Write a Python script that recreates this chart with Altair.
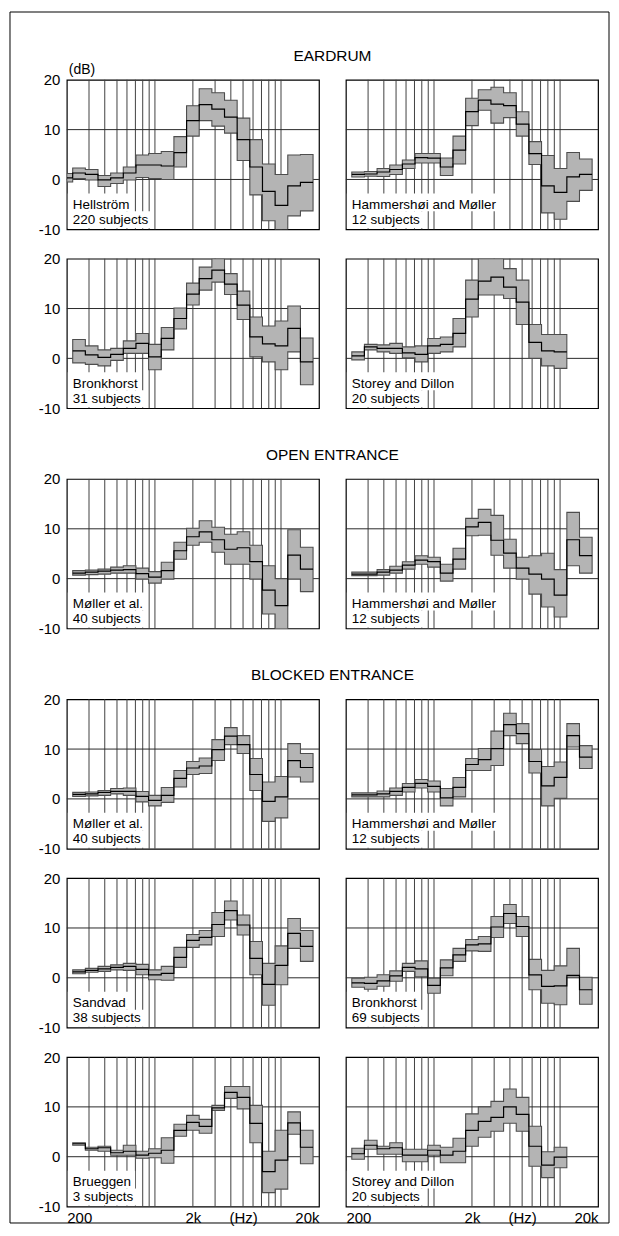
import altair as alt
import pandas as pd

# ---------------- data ----------------
GRID_FREQS = [300, 400, 500, 600, 700, 800, 900, 1000,
              2000, 3000, 4000, 5000, 6000, 7000, 8000, 9000, 10000]
H_LINES = [0, 10]
Y_TICKS = [-10, 0, 10, 20]
X_LABEL_VALUES = [200, 2000, 5000, 20000]
X_LABEL_TEXT = ["200", "2k", "(Hz)", "20k"]
SECTIONS = ["EARDRUM", "OPEN ENTRANCE", "BLOCKED ENTRANCE"]
Y_UNIT = "(dB)"

# band index 0 = 200 Hz, 1 = 250 Hz, ... 19 = 16 kHz (1/3 octave)
hel_mean = [0.3, 1.3, 1.0, -0.1, 0.3, 1.3, 2.9, 2.9, 2.7, 5.4, 11.8, 15.0, 14.1, 12.5, 8.0, 2.5, -2.4, -5.2, -1.3, -0.6]
hel_lo = [-0.5, 0.2, -0.1, -1.4, -0.8, -0.1, 0.4, 0.2, 0.0, 2.5, 8.7, 11.8, 10.7, 9.3, 3.8, -3.1, -8.3, -10.5, -7.3, -6.3]
hel_hi = [1.2, 2.3, 2.0, 0.8, 1.3, 2.5, 4.9, 5.2, 5.6, 8.6, 14.8, 18.2, 17.4, 15.9, 12.3, 8.0, 3.1, 1.0, 4.9, 5.0]

hme_mean = [1.0, 1.1, 1.5, 2.0, 3.1, 4.4, 4.3, 2.5, 5.9, 13.6, 15.9, 15.1, 14.8, 11.1, 5.2, -1.3, -2.6, 0.5, 1.0]
hme_lo = [0.5, 0.65, 0.6, 1.0, 2.2, 3.3, 3.3, 0.8, 3.1, 10.8, 13.9, 11.3, 12.4, 8.7, 3.0, -6.7, -8.0, -4.4, -2.2]
hme_hi = [1.5, 1.6, 2.2, 2.9, 3.9, 5.2, 5.2, 4.3, 8.7, 16.3, 18.0, 18.5, 17.4, 13.6, 7.6, 4.8, 2.2, 5.4, 4.1]

bre_mean = [1.5, 0.7, 0.2, 0.8, 2.0, 3.0, 0.3, 4.0, 8.0, 12.9, 16.0, 17.7, 14.9, 10.7, 4.3, 2.9, 2.5, 6.0, -0.7]
bre_lo = [-0.9, -1.2, -1.5, -0.4, 1.0, 1.0, -2.3, 1.7, 5.9, 10.7, 13.7, 15.3, 12.8, 7.8, 0.3, -0.7, -2.3, 1.3, -5.3]
bre_hi = [3.8, 2.5, 1.7, 2.0, 3.5, 5.0, 2.8, 6.2, 10.1, 15.1, 18.3, 20.0, 17.0, 13.5, 8.3, 6.5, 7.5, 10.5, 4.1]

sde_mean = [0.5, 2.3, 2.0, 2.0, 1.1, 0.8, 2.5, 2.8, 5.0, 11.9, 15.5, 16.3, 14.3, 11.3, 3.2, 1.5, 1.3]
sde_lo = [-0.3, 1.7, 1.3, 1.0, 0.1, -0.7, 1.0, 1.3, 2.3, 8.3, 12.7, 12.7, 12.0, 6.8, 0.0, -1.5, -2.0]
sde_hi = [1.3, 2.8, 2.7, 3.0, 2.3, 2.5, 4.0, 4.3, 8.0, 15.7, 20.0, 20.0, 18.0, 15.7, 6.8, 4.8, 4.8]

mo_mean = [1.1, 1.3, 1.5, 1.7, 1.8, 1.0, 0.3, 1.6, 5.6, 8.4, 9.4, 7.8, 5.9, 6.2, 3.4, -2.3, -5.4, 4.7, 1.9]
mo_lo = [0.7, 0.8, 0.9, 1.1, 1.1, -0.1, -0.9, -0.1, 3.9, 6.7, 7.3, 5.3, 2.9, 2.9, -0.1, -7.1, -10.5, -0.1, -2.6]
mo_hi = [1.6, 1.7, 1.9, 2.3, 2.6, 2.1, 1.4, 3.3, 7.3, 10.1, 11.6, 10.3, 8.9, 9.4, 6.7, 2.6, 0.0, 9.8, 6.3]

hmo_mean = [0.9, 0.9, 1.3, 1.7, 2.7, 3.7, 3.4, 1.1, 3.9, 10.4, 11.3, 7.7, 5.1, 2.1, 0.9, -0.1, -3.3, 7.8, 4.6]
hmo_lo = [0.6, 0.6, 0.7, 1.1, 1.9, 2.9, 2.3, -0.5, 1.9, 8.6, 8.7, 4.7, 2.1, -0.1, -3.1, -5.7, -7.7, 2.6, 1.1]
hmo_hi = [1.3, 1.3, 1.8, 2.5, 3.4, 4.6, 4.3, 2.9, 6.1, 12.1, 13.9, 12.7, 7.9, 4.3, 4.6, 5.1, 1.8, 13.3, 8.3]

mb_mean = [0.9, 1.0, 1.3, 1.5, 1.5, 0.5, -0.3, 0.7, 4.1, 6.2, 6.6, 9.9, 12.6, 10.9, 4.9, -0.5, 0.4, 7.7, 6.3]
mb_lo = [0.5, 0.6, 0.7, 1.0, 0.7, -0.6, -1.4, -0.7, 2.4, 4.9, 5.1, 7.7, 10.9, 9.1, 1.7, -4.5, -3.8, 4.4, 3.4]
mb_hi = [1.3, 1.4, 1.7, 2.1, 2.2, 1.5, 0.7, 2.3, 5.7, 7.5, 8.2, 11.9, 14.3, 12.7, 8.1, 3.4, 4.5, 11.1, 9.1]

hmb_mean = [0.8, 0.8, 1.0, 1.5, 2.3, 3.1, 2.5, 0.2, 2.3, 6.9, 7.9, 10.1, 14.9, 13.1, 7.5, 2.6, 4.3, 12.7, 8.4]
hmb_lo = [0.4, 0.4, 0.4, 0.7, 1.4, 2.2, 1.4, -1.4, 0.4, 5.7, 5.7, 6.7, 12.7, 11.1, 5.2, -1.4, 0.1, 10.4, 6.1]
hmb_hi = [1.2, 1.2, 1.6, 2.2, 3.1, 3.9, 3.6, 2.1, 4.3, 8.1, 10.1, 13.6, 17.2, 15.1, 9.9, 6.5, 7.4, 15.1, 10.7]

sa_mean = [1.2, 1.5, 1.8, 2.1, 2.3, 1.7, 0.6, 0.9, 4.1, 7.5, 8.1, 10.7, 13.5, 10.6, 3.9, -1.3, 2.5, 8.9, 6.3]
sa_lo = [0.8, 1.1, 1.3, 1.6, 1.5, 0.6, -0.4, -0.5, 2.1, 6.1, 6.6, 8.3, 11.6, 8.6, 0.6, -5.5, -1.4, 5.9, 3.3]
sa_hi = [1.6, 1.9, 2.3, 2.6, 2.9, 2.7, 1.6, 2.3, 6.1, 8.7, 9.5, 13.1, 15.4, 12.6, 7.3, 2.9, 6.4, 11.9, 9.5]

bb_mean = [-1.0, -1.1, -0.6, 0.4, 2.1, 1.8, -1.5, 2.0, 4.6, 6.6, 6.8, 10.2, 12.9, 10.3, 0.6, -1.7, -1.6, 0.5, -2.4]
bb_lo = [-1.9, -2.3, -1.7, -0.7, 1.3, 0.2, -3.1, 0.4, 3.3, 5.4, 5.3, 8.1, 10.9, 8.3, -2.4, -5.1, -5.4, 0.1, -5.3]
bb_hi = [-0.1, 0.1, 0.6, 1.4, 2.9, 3.4, -0.1, 3.6, 5.9, 7.7, 8.3, 12.3, 14.7, 12.3, 3.7, 1.5, 2.4, 5.9, 0.1]

bg_mean = [2.6, 1.6, 1.8, 0.8, 1.1, 0.3, 0.7, 1.3, 5.3, 6.9, 6.1, 9.8, 12.9, 11.9, 6.7, -3.0, -0.7, 6.8, 1.9]
bg_lo = [2.3, 1.3, 1.1, 0.3, 0.3, -0.3, -0.2, -1.3, 4.1, 5.3, 4.7, 9.3, 11.7, 9.6, 2.8, -7.2, -6.5, 4.5, -1.4]
bg_hi = [2.8, 1.9, 2.1, 1.3, 2.3, 1.1, 1.6, 3.8, 6.5, 8.3, 7.5, 10.3, 14.1, 14.1, 10.3, 1.1, 5.3, 9.0, 5.3]

sdb_mean = [0.6, 2.3, 1.6, 1.8, 0.3, 0.3, 1.3, 0.3, 1.1, 5.3, 7.1, 7.9, 10.0, 8.5, 2.1, -1.7, -0.1]
sdb_lo = [-0.5, 1.5, 0.5, 0.5, -1.0, -1.0, 0.3, -1.2, -1.2, 2.1, 3.9, 5.1, 6.7, 5.1, -1.9, -4.2, -2.2]
sdb_hi = [1.7, 3.3, 2.1, 2.8, 1.5, 1.5, 2.3, 1.9, 3.7, 8.6, 10.0, 11.1, 13.6, 11.9, 6.1, 1.0, 1.9]

# (name, subjects, first band index, mean, low, high)
PANELS = [
    ("Hellström", "220 subjects", 0, hel_mean, hel_lo, hel_hi),
    ("Hammershøi and Møller", "12 subjects", 1, hme_mean, hme_lo, hme_hi),
    ("Bronkhorst", "31 subjects", 1, bre_mean, bre_lo, bre_hi),
    ("Storey and Dillon", "20 subjects", 1, sde_mean, sde_lo, sde_hi),
    ("Møller et al.", "40 subjects", 1, mo_mean, mo_lo, mo_hi),
    ("Hammershøi and Møller", "12 subjects", 1, hmo_mean, hmo_lo, hmo_hi),
    ("Møller et al.", "40 subjects", 1, mb_mean, mb_lo, mb_hi),
    ("Hammershøi and Møller", "12 subjects", 1, hmb_mean, hmb_lo, hmb_hi),
    ("Sandvad", "38 subjects", 1, sa_mean, sa_lo, sa_hi),
    ("Bronkhorst", "69 subjects", 1, bb_mean, bb_lo, bb_hi),
    ("Brueggen", "3 subjects", 1, bg_mean, bg_lo, bg_hi),
    ("Storey and Dillon", "20 subjects", 1, sdb_mean, sdb_lo, sdb_hi),
]

# ---------------- styling / layout ----------------
W, H = 253, 150
FONT = "Liberation Sans"
LABEL_SIZE = 13.5
XS = alt.Scale(type="log", domain=[200, 20000], nice=False)
YS = alt.Scale(domain=[-10, 20], nice=False, zero=False)

# Arial/Helvetica advance widths (per 1000 em) to size white label boxes
CW = {" ": 278, ".": 278, "a": 556, "b": 556, "c": 500, "d": 556, "e": 556,
      "f": 278, "g": 556, "h": 556, "i": 222, "j": 222, "k": 500, "l": 222,
      "m": 833, "n": 556, "o": 556, "p": 556, "r": 333, "s": 500, "t": 278,
      "u": 556, "v": 500, "y": 500, "ö": 556, "ø": 611, "B": 667, "D": 722,
      "H": 722, "M": 833, "S": 667}


def text_w(s, size):
    return sum(CW.get(c, 556) for c in s) / 1000.0 * size


label_expr = " : ".join(
    f"datum.value == {v} ? '{t}'" for v, t in zip(X_LABEL_VALUES[:-1], X_LABEL_TEXT[:-1])
) + f" : '{X_LABEL_TEXT[-1]}'"


def band_points(start, mean, lo, hi):
    rows = []
    for i, (m, l, h) in enumerate(zip(mean, lo, hi)):
        k = start + i
        fc = 1000 * 2 ** ((k - 7) / 3)
        fl = max(fc * 2 ** (-1 / 6), 200) * 1.0003
        fr = min(fc * 2 ** (1 / 6), 20000) / 1.0003
        rows.append(dict(f=fl, mean=m, lo=l, hi=h, o=2 * i))
        rows.append(dict(f=fr, mean=m, lo=l, hi=h, o=2 * i + 1))
    return pd.DataFrame(rows)


def panel(idx, name, subj, start, mean, lo, hi):
    left = idx % 2 == 0
    bottom = idx >= 10
    xaxis = alt.Axis(values=X_LABEL_VALUES, labelExpr=label_expr, ticks=False,
                     domain=False, grid=False, labelFlush=True, labelOverlap=False,
                     labelFontSize=15, labelPadding=4, labelColor="black",
                     labelFont=FONT, title=None) if bottom else None
    yaxis = alt.Axis(values=Y_TICKS, labelExpr="'' + datum.value", ticks=False,
                     domain=False, grid=False, labelFontSize=15, labelPadding=7,
                     labelColor="black", labelFont=FONT, title=None) if left else None
    X = lambda f: alt.X(f, scale=XS, axis=xaxis)
    Y = lambda f: alt.Y(f, scale=YS, axis=yaxis)

    df = band_points(start, mean, lo, hi)
    layers = []
    layers.append(alt.Chart(pd.DataFrame({"f": GRID_FREQS})).mark_rule(
        color="#404040", strokeWidth=1).encode(x=X("f:Q")))
    layers.append(alt.Chart(pd.DataFrame({"v": H_LINES})).mark_rule(
        color="#2a2a2a", strokeWidth=1).encode(y=Y("v:Q")))
    layers.append(alt.Chart(df).mark_area(
        fill="#b4b4b4", stroke="#4d4d4d", strokeWidth=1.1, clip=True).encode(
        x=X("f:Q"), y=Y("lo:Q"), y2="hi:Q"))
    layers.append(alt.Chart(df).mark_line(
        color="black", strokeWidth=1.2, clip=True).encode(
        x=X("f:Q"), y=Y("mean:Q"), order="o:Q"))

    # white boxes behind the labels
    w1 = 6 + text_w(name, LABEL_SIZE) + 4
    w2 = 6 + text_w(subj, LABEL_SIZE) + 4
    one = pd.DataFrame({"a": [0]})
    layers.append(alt.Chart(one).mark_rect(fill="white").encode(
        x=alt.value(1), x2=alt.value(w1), y=alt.value(H - 36), y2=alt.value(H - 18)))
    layers.append(alt.Chart(one).mark_rect(fill="white").encode(
        x=alt.value(1), x2=alt.value(w2), y=alt.value(H - 18), y2=alt.value(H - 1)))
    layers.append(alt.Chart(pd.DataFrame({"t": [name]})).mark_text(
        align="left", baseline="alphabetic", font=FONT, fontSize=LABEL_SIZE,
        color="black").encode(x=alt.value(6), y=alt.value(H - 20.5), text="t:N"))
    layers.append(alt.Chart(pd.DataFrame({"t": [subj]})).mark_text(
        align="left", baseline="alphabetic", font=FONT, fontSize=LABEL_SIZE,
        color="black").encode(x=alt.value(6), y=alt.value(H - 5.5), text="t:N"))

    # section titles above the first row of each section
    sec = {0: SECTIONS[0], 4: SECTIONS[1], 6: SECTIONS[2]}
    if idx in sec:
        layers.append(alt.Chart(pd.DataFrame({"t": [sec[idx]]})).mark_text(
            align="center", baseline="middle", font=FONT, fontSize=15.5,
            color="black").encode(x=alt.value((2 * W + 27) / 2), y=alt.value(-24), text="t:N"))
    if idx == 0:
        layers.append(alt.Chart(pd.DataFrame({"t": [Y_UNIT]})).mark_text(
            align="left", baseline="alphabetic", font=FONT, fontSize=14,
            color="black").encode(x=alt.value(2), y=alt.value(-6), text="t:N"))
        # outer frame of the figure
        layers.append(alt.Chart(one).mark_rect(
            fill="transparent", stroke="black", strokeWidth=1).encode(
            x=alt.value(-57), x2=alt.value(544), y=alt.value(-68), y2=alt.value(1147)))

    return alt.layer(*layers).properties(width=W, height=H)


def spacer():
    return alt.Chart(pd.DataFrame({"t": [""]})).mark_text().encode(
        text="t:N").properties(width=W, height=12,
                               view=alt.ViewBackground(stroke="transparent"))


charts = []
for i, p in enumerate(PANELS):
    if i in (4, 6):
        charts += [spacer(), spacer()]
    charts.append(panel(i, *p))

chart = alt.concat(*charts, columns=2, spacing={"row": 29.5, "column": 27},
                   bounds="flush", padding=0).configure_view(
    stroke="black", strokeWidth=1.2)

chart.save("out.html", embed_options={"renderer": "svg", "actions": False})
